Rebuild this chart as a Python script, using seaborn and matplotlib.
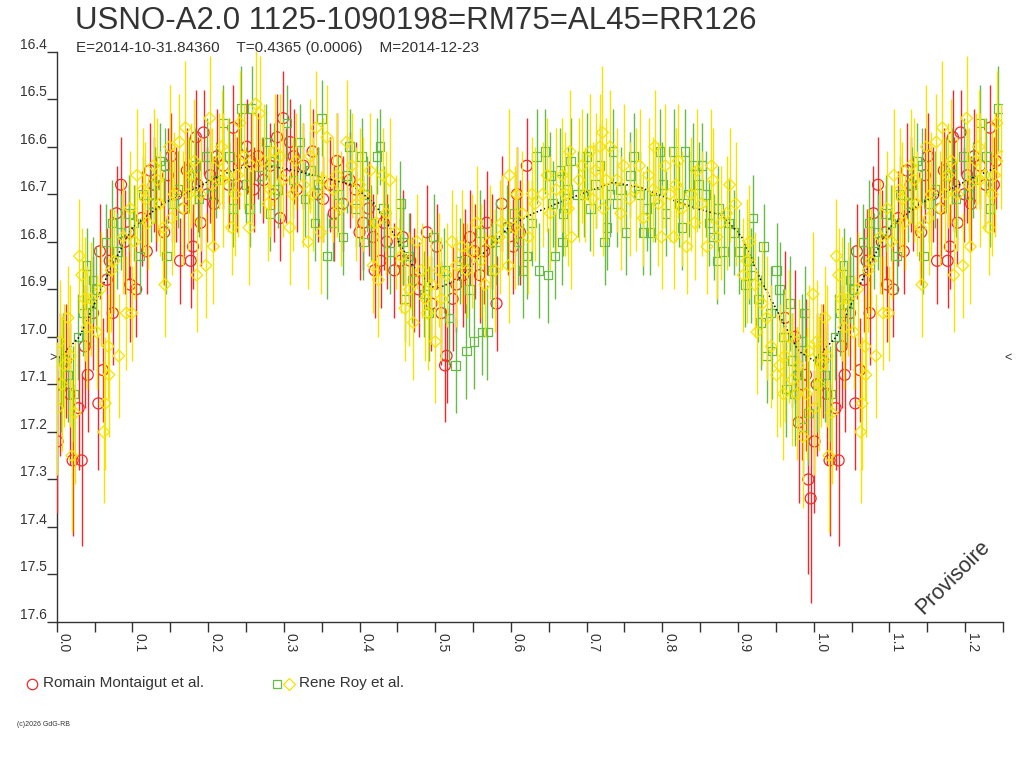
import numpy as np
import matplotlib
matplotlib.use("Agg")
import matplotlib.pyplot as plt
import seaborn as sns

# textes
title = "USNO-A2.0 1125-1090198=RM75=AL45=RR126"
subtitle = "E=2014-10-31.84360    T=0.4365 (0.0006)    M=2014-12-23"
label_red = "Romain Montaigut et al."
label_roy = "Rene Roy et al."

# Romain Montaigut (cercles rouges)
red_phase = [
    0.001, 0.021, 0.033, 0.029, 0.041, 0.055, 0.061, 0.057, 0.074, 0.079,
    0.085, 0.105, 0.097, 0.123, 0.119, 0.151, 0.163, 0.184, 0.194, 0.180,
    0.177, 0.190, 0.172, 0.203, 0.233, 0.220, 0.251, 0.260, 0.295, 0.299,
    0.308, 0.291, 0.317, 0.352, 0.370, 0.387, 0.405, 0.420, 0.273, 0.418,
    0.428, 0.457, 0.454, 0.489, 0.502, 0.515, 0.513, 0.546, 0.568, 0.581,
    0.588, 0.603, 0.621, 0.608, 0.528, 0.559, 0.467, 0.993, 0.996, 0.012,
    0.048, 0.066, 0.090, 0.112, 0.131, 0.142, 0.158, 0.168, 0.199, 0.212,
    0.227, 0.241, 0.266, 0.282, 0.303, 0.326, 0.338, 0.361, 0.378, 0.395,
    0.412, 0.436, 0.446, 0.478, 0.495, 0.523, 0.537, 0.552, 0.575, 0.596,
    0.985, 0.975, 0.962, 0.004,
    0.017, 0.037, 0.070, 0.095, 0.128, 0.147, 0.186, 0.208, 0.238, 0.256,
    0.287, 0.313, 0.345, 0.366, 0.400, 0.432, 0.472, 0.508, 0.540, 0.565,
    0.612, 0.980, 0.990]
red_mag = [
    17.22, 17.26, 17.26, 17.15, 17.08, 17.14, 17.07, 16.82, 16.95, 16.74,
    16.68, 16.90, 16.89, 16.65, 16.82, 16.62, 16.84, 16.58, 16.57, 16.81,
    16.84, 16.76, 16.65, 16.66, 16.56, 16.64, 16.60, 16.69, 16.75, 16.54,
    16.59, 16.58, 16.69, 16.71, 16.63, 16.67, 16.76, 16.86, 16.67, 16.79,
    16.84, 16.79, 16.84, 16.78, 16.81, 17.04, 17.06, 16.79, 16.76, 16.93,
    16.72, 16.81, 16.64, 16.70, 16.89, 16.87, 16.84, 17.30, 17.34, 17.05,
    16.95, 16.88, 16.80, 16.75, 16.72, 16.78, 16.70, 16.73, 16.70, 16.62,
    16.68, 16.63, 16.62, 16.64, 16.66, 16.64, 16.61, 16.68, 16.72, 16.69,
    16.73, 16.80, 16.86, 16.90, 16.93, 16.92, 16.87, 16.82, 16.80, 16.77,
    17.10, 17.00, 16.96, 17.10,
    17.12, 17.02, 16.84, 16.78, 16.68, 16.66, 16.68, 16.72, 16.68, 16.63,
    16.70, 16.62, 16.70, 16.74, 16.78, 16.76, 16.88, 16.95, 16.84, 16.82,
    16.78, 17.18, 17.08]
red_err = [
    0.15, 0.16, 0.18, 0.13, 0.12, 0.14, 0.11, 0.10, 0.11, 0.10,
    0.10, 0.10, 0.12, 0.10, 0.09, 0.09, 0.09, 0.10, 0.09, 0.09,
    0.10, 0.09, 0.09, 0.10, 0.09, 0.09, 0.10, 0.09, 0.09, 0.10,
    0.09, 0.09, 0.09, 0.09, 0.10, 0.10, 0.10, 0.10, 0.09, 0.09,
    0.10, 0.10, 0.09, 0.10, 0.09, 0.10, 0.12, 0.10, 0.11, 0.10,
    0.10, 0.10, 0.10, 0.10, 0.10, 0.10, 0.10, 0.20, 0.22, 0.12,
    0.12, 0.11, 0.11, 0.10, 0.10, 0.11, 0.10, 0.10, 0.10, 0.10,
    0.09, 0.10, 0.09, 0.09, 0.10, 0.09, 0.09, 0.10, 0.10, 0.10,
    0.10, 0.10, 0.10, 0.10, 0.10, 0.11, 0.11, 0.10, 0.10, 0.10,
    0.16, 0.14, 0.14, 0.15,
    0.15, 0.13, 0.11, 0.10, 0.10, 0.10, 0.10, 0.10, 0.10, 0.10,
    0.10, 0.10, 0.10, 0.10, 0.10, 0.10, 0.11, 0.11, 0.11, 0.11,
    0.11, 0.17, 0.16]

# Rene Roy (carres verts)
green_phase = [
    0.040, 0.065, 0.073, 0.035, 0.008, 0.136, 0.110, 0.143, 0.244, 0.258,
    0.220, 0.304, 0.282, 0.350, 0.341, 0.357, 0.378, 0.365, 0.403, 0.423,
    0.387, 0.405, 0.255, 0.044, 0.114, 0.145, 0.198, 0.233, 0.277, 0.321,
    0.335, 0.427, 0.454, 0.460, 0.498, 0.527, 0.541, 0.551, 0.562, 0.569,
    0.559, 0.616, 0.637, 0.649, 0.634, 0.645, 0.652, 0.665, 0.658, 0.668,
    0.679, 0.700, 0.724, 0.727, 0.735, 0.752, 0.762, 0.775, 0.784, 0.797,
    0.815, 0.830, 0.841, 0.848, 0.696, 0.731, 0.621, 0.669, 0.457, 0.852,
    0.874, 0.872, 0.881, 0.920, 0.909, 0.914, 0.934, 0.951, 0.938, 0.945,
    0.964, 0.972, 0.984, 0.988, 0.986, 0.993, 0.969, 0.927, 0.955, 0.015,
    0.022, 0.028, 0.052, 0.085, 0.095, 0.125, 0.160, 0.175, 0.188, 0.210,
    0.268, 0.292, 0.312, 0.372, 0.395, 0.415, 0.440, 0.470, 0.485, 0.512,
    0.533, 0.580, 0.595, 0.605, 0.688, 0.712, 0.745, 0.770, 0.790, 0.805,
    0.822, 0.862, 0.895, 0.902, 0.943, 0.978,
    0.005, 0.048, 0.080, 0.102, 0.130, 0.152, 0.183, 0.205, 0.228, 0.250,
    0.287, 0.328, 0.345, 0.383, 0.410, 0.432, 0.465, 0.492, 0.518, 0.545,
    0.575, 0.610, 0.628, 0.655, 0.675, 0.705, 0.718, 0.740, 0.758, 0.780,
    0.800, 0.826, 0.835, 0.858, 0.868, 0.888, 0.917, 0.930, 0.960, 0.975]
green_mag = [
    16.85, 16.80, 16.76, 16.95, 17.05, 16.63, 16.83, 16.64, 16.52, 16.52,
    16.55, 16.55, 16.74, 16.54, 16.76, 16.83, 16.79, 16.76, 16.62, 16.62,
    16.60, 16.80, 16.73, 16.93, 16.70, 16.83, 16.62, 16.73, 16.59, 16.59,
    16.65, 16.60, 16.72, 16.92, 16.79, 17.06, 17.03, 17.01, 16.99, 16.99,
    16.78, 16.86, 16.86, 16.87, 16.62, 16.61, 16.66, 16.65, 16.83, 16.80,
    16.63, 16.62, 16.80, 16.77, 16.61, 16.78, 16.62, 16.78, 16.78, 16.61,
    16.61, 16.61, 16.64, 16.68, 16.70, 16.70, 16.83, 16.74, 16.80, 16.64,
    16.73, 16.84, 16.82, 16.75, 16.89, 16.84, 16.81, 16.86, 17.04, 17.03,
    17.11, 17.05, 17.01, 16.95, 17.19, 17.16, 16.93, 16.92, 16.90, 17.08,
    17.12, 17.00, 16.90, 16.78, 16.74, 16.72, 16.69, 16.66, 16.71, 16.67,
    16.66, 16.69, 16.67, 16.70, 16.73, 16.76, 16.82, 16.88, 16.91, 16.86,
    16.84, 16.80, 16.77, 16.74, 16.70, 16.68, 16.69, 16.70, 16.71, 16.74,
    16.72, 16.76, 16.78, 16.82, 16.95, 17.08,
    17.10, 16.88, 16.82, 16.76, 16.68, 16.72, 16.64, 16.70, 16.62, 16.68,
    16.63, 16.71, 16.68, 16.66, 16.70, 16.73, 16.83, 16.95, 16.96, 16.90,
    16.86, 16.80, 16.76, 16.72, 16.69, 16.73, 16.64, 16.72, 16.66, 16.73,
    16.68, 16.77, 16.70, 16.70, 16.79, 16.76, 16.87, 16.97, 17.00, 17.12]
green_err = [
    0.08, 0.08, 0.09, 0.09, 0.10, 0.08, 0.08, 0.08, 0.09, 0.09,
    0.08, 0.08, 0.08, 0.08, 0.08, 0.09, 0.08, 0.08, 0.08, 0.08,
    0.08, 0.08, 0.08, 0.09, 0.08, 0.08, 0.08, 0.08, 0.08, 0.08,
    0.08, 0.08, 0.09, 0.09, 0.09, 0.10, 0.10, 0.10, 0.09, 0.10,
    0.09, 0.10, 0.10, 0.10, 0.10, 0.09, 0.09, 0.09, 0.09, 0.09,
    0.09, 0.09, 0.09, 0.09, 0.09, 0.09, 0.09, 0.09, 0.09, 0.09,
    0.09, 0.09, 0.09, 0.09, 0.09, 0.09, 0.09, 0.09, 0.09, 0.09,
    0.09, 0.09, 0.09, 0.09, 0.09, 0.09, 0.09, 0.10, 0.10, 0.10,
    0.10, 0.10, 0.10, 0.10, 0.11, 0.11, 0.10, 0.09, 0.10, 0.10,
    0.10, 0.09, 0.09, 0.08, 0.08, 0.08, 0.08, 0.08, 0.08, 0.08,
    0.08, 0.08, 0.08, 0.08, 0.08, 0.08, 0.09, 0.09, 0.09, 0.09,
    0.09, 0.09, 0.09, 0.09, 0.09, 0.09, 0.09, 0.09, 0.09, 0.09,
    0.09, 0.09, 0.09, 0.09, 0.10, 0.10,
    0.10, 0.09, 0.08, 0.08, 0.08, 0.08, 0.08, 0.08, 0.08, 0.08,
    0.08, 0.08, 0.08, 0.08, 0.08, 0.09, 0.09, 0.10, 0.10, 0.10,
    0.10, 0.09, 0.09, 0.09, 0.09, 0.09, 0.09, 0.09, 0.09, 0.09,
    0.09, 0.09, 0.09, 0.09, 0.09, 0.09, 0.10, 0.10, 0.10, 0.11]

# Rene Roy (losanges jaunes)
yellow_phase = [
    0.001, 0.004, 0.015, 0.020, 0.024, 0.030, 0.033, 0.040, 0.053, 0.062,
    0.064, 0.069, 0.068, 0.082, 0.092, 0.099, 0.097, 0.106, 0.143, 0.149,
    0.162, 0.170, 0.185, 0.197, 0.207, 0.202, 0.231, 0.254, 0.263, 0.268,
    0.242, 0.308, 0.332, 0.349, 0.343, 0.357, 0.383, 0.414, 0.418, 0.141,
    0.114, 0.136, 0.167, 0.220, 0.282, 0.299, 0.326, 0.365, 0.396, 0.431,
    0.425, 0.440, 0.460, 0.471, 0.476, 0.495, 0.500, 0.522, 0.535, 0.542,
    0.555, 0.566, 0.579, 0.597, 0.598, 0.608, 0.623, 0.678, 0.680, 0.705,
    0.721, 0.731, 0.718, 0.749, 0.775, 0.790, 0.799, 0.804, 0.821, 0.832,
    0.843, 0.815, 0.660, 0.676, 0.722, 0.757, 0.788, 0.652, 0.846, 0.865,
    0.867, 0.889, 0.897, 0.859, 0.907, 0.925, 0.922, 0.944, 0.951, 0.960,
    0.986, 0.999, 0.978, 0.991, 0.955, 0.980, 0.010, 0.045, 0.076, 0.088,
    0.120, 0.128, 0.155, 0.178, 0.190, 0.214, 0.226, 0.236, 0.248, 0.274,
    0.288, 0.316, 0.338, 0.370, 0.390, 0.405, 0.448, 0.482, 0.490, 0.508,
    0.515, 0.548, 0.572, 0.588, 0.615, 0.632, 0.642, 0.668, 0.690, 0.698,
    0.712, 0.740, 0.765, 0.782, 0.810, 0.826, 0.852, 0.878, 0.915, 0.932,
    0.968,
    0.007, 0.018, 0.037, 0.058, 0.072, 0.103, 0.117, 0.133, 0.152, 0.174,
    0.182, 0.205, 0.218, 0.239, 0.258, 0.279, 0.295, 0.312, 0.335, 0.352,
    0.375, 0.400, 0.422, 0.435, 0.455, 0.466, 0.487, 0.505, 0.528, 0.560,
    0.585, 0.605, 0.628, 0.648, 0.672, 0.694, 0.708, 0.726, 0.745, 0.770,
    0.795, 0.818, 0.838, 0.872, 0.885, 0.912, 0.938, 0.962, 0.972, 0.994]
yellow_mag = [
    17.15, 17.01, 16.96, 17.25, 17.16, 16.83, 16.87, 16.98, 16.99, 17.20,
    17.14, 17.08, 17.02, 17.04, 16.95, 16.95, 16.73, 16.66, 16.89, 16.60,
    16.59, 16.56, 16.87, 16.85, 16.81, 16.54, 16.77, 16.77, 16.51, 16.53,
    16.55, 16.77, 16.80, 16.78, 16.56, 16.58, 16.59, 16.65, 16.85, 16.77,
    16.69, 16.72, 16.73, 16.67, 16.69, 16.67, 16.68, 16.69, 16.72, 16.66,
    16.88, 16.67, 16.94, 16.97, 16.80, 16.89, 17.01, 16.80, 16.81, 16.86,
    16.76, 16.89, 16.86, 16.85, 16.66, 16.70, 16.79, 16.61, 16.79, 16.61,
    16.57, 16.60, 16.60, 16.64, 16.75, 16.60, 16.79, 16.64, 16.63, 16.81,
    16.76, 16.79, 16.69, 16.73, 16.73, 16.71, 16.69, 16.74, 16.65, 16.64,
    16.67, 16.68, 16.72, 16.81, 16.87, 16.99, 16.89, 17.02, 17.08, 17.12,
    17.21, 16.91, 17.12, 17.12, 17.06, 17.06, 17.06, 16.92, 16.84, 16.79,
    16.76, 16.64, 16.70, 16.66, 16.70, 16.63, 16.66, 16.70, 16.62, 16.63,
    16.61, 16.63, 16.70, 16.66, 16.64, 16.70, 16.78, 16.86, 16.95, 16.92,
    16.87, 16.82, 16.80, 16.76, 16.74, 16.72, 16.70, 16.66, 16.67, 16.70,
    16.65, 16.67, 16.69, 16.66, 16.70, 16.73, 16.72, 16.76, 16.80, 16.93,
    17.00,
    17.10, 17.04, 16.92, 16.90, 16.86, 16.80, 16.71, 16.67, 16.75, 16.70,
    16.63, 16.68, 16.60, 16.66, 16.64, 16.72, 16.62, 16.70, 16.62, 16.67,
    16.73, 16.68, 16.76, 16.74, 16.83, 16.90, 16.92, 16.86, 16.85, 16.84,
    16.79, 16.77, 16.70, 16.66, 16.70, 16.64, 16.71, 16.67, 16.74, 16.64,
    16.72, 16.68, 16.70, 16.79, 16.74, 16.84, 16.96, 17.04, 17.09, 17.03]
yellow_err = [
    0.14, 0.13, 0.11, 0.16, 0.15, 0.12, 0.10, 0.13, 0.12, 0.15,
    0.14, 0.13, 0.11, 0.13, 0.12, 0.10, 0.12, 0.14, 0.11, 0.13,
    0.10, 0.14, 0.12, 0.11, 0.12, 0.13, 0.10, 0.12, 0.14, 0.12,
    0.11, 0.12, 0.10, 0.13, 0.12, 0.11, 0.13, 0.12, 0.10, 0.12,
    0.13, 0.11, 0.12, 0.14, 0.10, 0.12, 0.13, 0.11, 0.12, 0.10,
    0.12, 0.13, 0.11, 0.12, 0.10, 0.12, 0.13, 0.11, 0.12, 0.10,
    0.12, 0.11, 0.13, 0.12, 0.14, 0.10, 0.12, 0.13, 0.11, 0.12,
    0.14, 0.12, 0.11, 0.13, 0.10, 0.12, 0.11, 0.13, 0.12, 0.10,
    0.12, 0.11, 0.13, 0.12, 0.10, 0.12, 0.11, 0.12, 0.13, 0.12,
    0.11, 0.12, 0.13, 0.10, 0.12, 0.13, 0.11, 0.13, 0.13, 0.14,
    0.15, 0.13, 0.14, 0.14, 0.13, 0.14, 0.13, 0.12, 0.11, 0.12,
    0.10, 0.12, 0.13, 0.11, 0.12, 0.10, 0.12, 0.13, 0.11, 0.12,
    0.12, 0.10, 0.12, 0.13, 0.11, 0.12, 0.12, 0.10, 0.12, 0.13,
    0.11, 0.12, 0.12, 0.10, 0.13, 0.12, 0.11, 0.12, 0.13, 0.10,
    0.12, 0.11, 0.13, 0.12, 0.10, 0.12, 0.11, 0.12, 0.12, 0.13,
    0.14,
    0.14, 0.15, 0.13, 0.12, 0.13, 0.12, 0.12, 0.13, 0.12, 0.12,
    0.13, 0.12, 0.12, 0.13, 0.12, 0.12, 0.13, 0.12, 0.12, 0.13,
    0.12, 0.12, 0.12, 0.13, 0.12, 0.12, 0.13, 0.12, 0.13, 0.12,
    0.12, 0.13, 0.12, 0.12, 0.13, 0.12, 0.12, 0.13, 0.12, 0.12,
    0.13, 0.12, 0.12, 0.13, 0.12, 0.13, 0.13, 0.14, 0.14, 0.14]

# courbe moyenne (pointilles noirs)
curve_phase = [0.00, 0.03, 0.05, 0.07, 0.10, 0.14, 0.18, 0.21, 0.24, 0.27,
               0.30, 0.34, 0.39, 0.42, 0.44, 0.47, 0.50, 0.53, 0.56, 0.60,
               0.63, 0.66, 0.70, 0.735, 0.77, 0.81, 0.845, 0.88, 0.905, 0.93,
               0.96, 0.98, 1.00]
curve_mag = [17.05, 17.00, 16.93, 16.86, 16.77, 16.72, 16.69, 16.665, 16.645, 16.64,
             16.645, 16.66, 16.68, 16.72, 16.77, 16.85, 16.90, 16.88, 16.83, 16.765,
             16.74, 16.72, 16.695, 16.675, 16.685, 16.71, 16.73, 16.745, 16.79, 16.88,
             16.97, 17.03, 17.05]
mean_mag = 17.045

x_ticks = [0.0, 0.1, 0.2, 0.3, 0.4, 0.5, 0.6, 0.7, 0.8, 0.9, 1.0, 1.1, 1.2]
y_ticks = [16.4, 16.5, 16.6, 16.7, 16.8, 16.9, 17.0, 17.1, 17.2, 17.3, 17.4, 17.5, 17.6]

RED = "#ee2a2a"
GREEN = "#66bb47"
YELLOW = "#f7e300"
DARK = "#333333"


def fold(phase, mag, err=None):
    # on repete le debut de la phase apres 1.0 (jusqu'a 1.25)
    phase = np.asarray(phase)
    mag = np.asarray(mag)
    extra = (phase < 0.25) & (phase > 0)
    p = np.concatenate([phase, phase[extra] + 1])
    m = np.concatenate([mag, mag[extra]])
    if err is None:
        return p, m
    err = np.asarray(err)
    return p, m, np.concatenate([err, err[extra]])


sns.set_style("white")
plt.rcParams['font.family'] = ['Liberation Sans', 'DejaVu Sans']

fig = plt.figure(figsize=(10.24, 7.68), dpi=100)
ax = fig.add_axes([0.0554, 0.1901, 0.924, 0.7426])
ax.patch.set_alpha(0)

series = [
    (red_phase, red_mag, red_err, RED, 'o', 62, 3),
    (green_phase, green_mag, green_err, GREEN, 's', 38, 4),
    (yellow_phase, yellow_mag, yellow_err, YELLOW, 'D', 36, 5),
]
for ph, mg, er, col, mk, size, z in series:
    p, m, e = fold(ph, mg, er)
    ax.errorbar(p, m, yerr=e, fmt='none', ecolor=col, elinewidth=1.0,
                capsize=0, zorder=z)
    sns.scatterplot(x=p, y=m, marker=mk, s=size, facecolor='none',
                    edgecolor=col, linewidth=0.9, ax=ax, zorder=z + 0.5)

cp, cm = fold(curve_phase, curve_mag)
order = np.argsort(cp)
sns.lineplot(x=cp[order], y=cm[order], color='black', linestyle=(0, (1, 1.5)),
             linewidth=1.1, sort=False, estimator=None, ax=ax, zorder=4.8)

ax.set_xlim(0, 1.25)
ax.set_ylim(17.6, 16.4)
ax.set_xlabel('')
ax.set_ylabel('')

ax.set_xticks(x_ticks)
ax.set_xticklabels([f"{v:.1f}" for v in x_ticks])
ax.set_xticks(np.arange(0.05, 1.26, 0.1), minor=True)
ax.set_yticks(y_ticks)
ax.set_yticklabels([f"{v:.1f}" for v in y_ticks])
ax.tick_params(axis='x', which='both', direction='out', length=7, width=1,
               color=DARK, pad=1, labelsize=10, labelcolor=DARK,
               labelrotation=-90, bottom=True)
ax.tick_params(axis='y', which='both', direction='out', length=7, width=1,
               color=DARK, pad=0, labelsize=10, labelcolor=DARK, left=True)
for lab in ax.get_xticklabels():
    lab.set_ha('left')
    lab.set_va('top')
for lab in ax.get_yticklabels():
    lab.set_va('bottom')

for s in ['top', 'right']:
    ax.spines[s].set_visible(False)
for s in ['left', 'bottom']:
    ax.spines[s].set_color(DARK)
    ax.spines[s].set_linewidth(1)

# reperes de la magnitude moyenne
ax.annotate('>', xy=(0, mean_mag), xytext=(-3, 0), textcoords='offset points',
            ha='center', va='center', fontsize=9, color=DARK,
            annotation_clip=False)
ax.annotate('<', xy=(1.25, mean_mag), xytext=(4, 0), textcoords='offset points',
            ha='center', va='center', fontsize=9, color=DARK,
            annotation_clip=False)

# titres, legende, mentions (coordonnees en pixels)
ov = fig.add_axes([0, 0, 1, 1], zorder=10)
ov.set_xlim(0, 1024)
ov.set_ylim(768, 0)
ov.axis('off')
ov.text(75, 21, title, fontsize=22.5, ha='left', va='center', color=DARK)
ov.text(76, 48, subtitle, fontsize=11, ha='left', va='center', color=DARK)

ov.plot([32], [684], marker='o', ms=7.5, mfc='none', mec=RED, mew=0.9)
ov.text(43, 683, label_red, fontsize=11, ha='left', va='center', color=DARK)
ov.plot([277], [684], marker='s', ms=6, mfc='none', mec=GREEN, mew=0.9)
ov.plot([289], [684], marker='D', ms=6, mfc='none', mec=YELLOW, mew=0.9)
ov.text(299, 683, label_roy, fontsize=11, ha='left', va='center', color=DARK)

ov.text(17, 725, "(c)2026 GdG-RB", fontsize=5, ha='left', va='center', color=DARK)
ov.text(953, 577, "Provisoire", fontsize=15.5, rotation=45, ha='center',
        va='center', color=DARK)

fig.savefig("out.png", dpi=100)
